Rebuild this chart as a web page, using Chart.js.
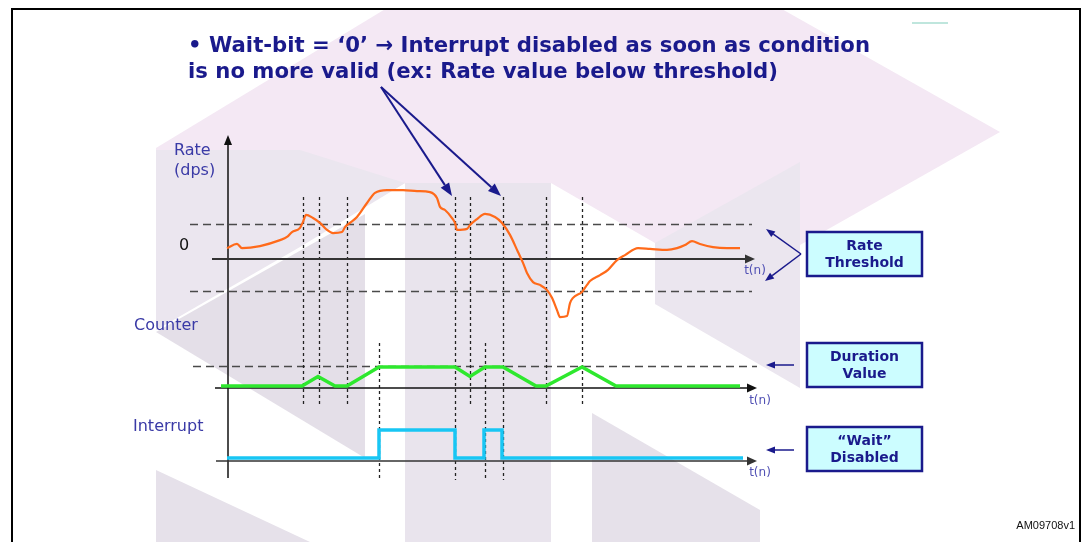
<!DOCTYPE html>
<html lang="en">
<head>
<meta charset="UTF-8" />
<title>Wait-bit = 0 interrupt timing</title>
<script src="https://cdn.jsdelivr.net/npm/chart.js@4.4.1/dist/chart.umd.min.js"></script>
<style>
  html, body { margin: 0; padding: 0; background: #fff; }
  #wrap { width: 1083px; height: 542px; }
</style>
</head>
<body>
<div id="wrap"><canvas id="chart" width="1083" height="542"></canvas></div>
<script>
// time in samples from the Rate axis, values per trace
const rateT = [-1, 9, 14, 32, 52, 59, 64, 72, 75, 78, 85, 92, 99, 105, 114, 117, 122, 129, 139, 147, 159, 175, 189, 202, 209, 212, 217, 224, 227, 229, 239, 242, 249, 257, 267, 274, 282, 290, 295, 299, 305, 312, 319, 324, 329, 332, 339, 342, 345, 354, 359, 362, 372, 380, 389, 397, 410, 422, 439, 449, 457, 464, 472, 485, 499, 512]
const rateV = [3.1, 4.3, 3.1, 3.7, 5.4, 6.3, 7.7, 8.9, 10.6, 12.6, 11.7, 10.3, 8.3, 7.4, 7.7, 9.1, 10.3, 12.0, 16.0, 18.9, 19.7, 19.7, 19.4, 19.1, 17.4, 14.9, 14.0, 11.7, 10.3, 8.3, 8.6, 9.7, 11.4, 12.9, 12.0, 10.3, 6.9, 2.0, -1.1, -4.0, -6.6, -7.4, -8.9, -11.1, -14.6, -16.6, -16.3, -12.6, -11.1, -9.4, -7.4, -6.3, -4.6, -3.1, -0.3, 1.1, 3.1, 2.9, 2.6, 3.1, 4.0, 5.1, 4.3, 3.4, 3.1, 3.1]
const counterT = [-7, 74, 90, 107, 119, 151, 227, 242, 257, 275, 308, 318, 354, 388, 512]
const counterV = [0, 0, 2, 0, 0, 4, 4, 2, 4, 4, 0, 0, 4, 0, 0]
const intT = [-1, 151, 227, 256, 274, 515]
const intV = [0, 1, 0, 1, 0, 0]
const thresholds = [10, -9]
const durationValue = 4
const eventT = [75, 91, 119, 151, 227, 242, 257, 275, 318, 354]
const eventSpan = ['rc', 'rc', 'rc', 'ci', 'all', 'rc', 'ci', 'all', 'rc', 'rc']

const W = 1083, H = 542
const axisX = 228
const NAVY = '#1a1a8c'
const LABEL = '#3a3aa6'

// y range so that value 0 lands on zeroPx with pxPerUnit scale
function span(zeroPx, pxPerUnit) {
  return { min: -(H - zeroPx) / pxPerUnit, max: zeroPx / pxPerUnit }
}

function pts(ts, vs) {
  return ts.map((t, i) => ({ x: t, y: vs[i] }))
}

function arrow(ctx, x1, y1, x2, y2, head, half, color, lw) {
  const a = Math.atan2(y2 - y1, x2 - x1)
  const bx = x2 - Math.cos(a) * head, by = y2 - Math.sin(a) * head
  ctx.save()
  ctx.strokeStyle = color
  ctx.fillStyle = color
  ctx.lineWidth = lw
  ctx.setLineDash([])
  ctx.beginPath()
  ctx.moveTo(x1, y1)
  ctx.lineTo(bx, by)
  ctx.stroke()
  ctx.beginPath()
  ctx.moveTo(x2, y2)
  ctx.lineTo(bx + Math.sin(a) * half, by - Math.cos(a) * half)
  ctx.lineTo(bx - Math.sin(a) * half, by + Math.cos(a) * half)
  ctx.closePath()
  ctx.fill()
  ctx.restore()
}

function fitText(ctx, text, x, y, width) {
  const w = ctx.measureText(text).width
  ctx.save()
  ctx.translate(x, y)
  ctx.scale(width / w, 1)
  ctx.fillText(text, 0, 0)
  ctx.restore()
}

// pale company-logo watermark behind the diagram
const watermark = [
  ['#f4e8f4', [[156, 148], [387, 8], [780, 8], [1000, 132], [800, 245], [655, 243], [551, 183], [405, 183], [156, 330]]],
  ['#ebe6ef', [[156, 150], [300, 150], [405, 183], [300, 247], [156, 330]]],
  ['#e4dfe8', [[156, 332], [365, 214], [365, 458]]],
  ['#e9e4ed', [[405, 183], [551, 183], [551, 542], [405, 542]]],
  ['#ebe6ef', [[655, 243], [800, 162], [800, 388], [655, 304]]],
  ['#e6e1ea', [[592, 413], [760, 510], [760, 542], [592, 542]]],
  ['#e6e1ea', [[156, 470], [310, 542], [156, 542]]],
]

const backdrop = {
  id: 'backdrop',
  beforeDraw(chart) {
    const ctx = chart.ctx
    ctx.save()
    ctx.fillStyle = '#fff'
    ctx.fillRect(0, 0, W, H)
    for (const [c, poly] of watermark) {
      ctx.fillStyle = c
      ctx.beginPath()
      poly.forEach(([x, y], i) => (i ? ctx.lineTo(x, y) : ctx.moveTo(x, y)))
      ctx.closePath()
      ctx.fill()
    }
    // frame
    ctx.strokeStyle = '#000'
    ctx.lineWidth = 2
    ctx.beginPath()
    ctx.moveTo(12, H)
    ctx.lineTo(12, 9)
    ctx.lineTo(1080, 9)
    ctx.lineTo(1080, H)
    ctx.stroke()
    ctx.strokeStyle = '#bfe6dd'
    ctx.beginPath()
    ctx.moveTo(912, 23)
    ctx.lineTo(948, 23)
    ctx.stroke()
    ctx.restore()
  },
}

const guides = {
  id: 'guides',
  beforeDatasetsDraw(chart) {
    const ctx = chart.ctx
    const x = chart.scales.x, yr = chart.scales.yRate, yc = chart.scales.yCnt, yi = chart.scales.yInt
    ctx.save()
    // threshold / duration dashes
    ctx.strokeStyle = '#4a4a4a'
    ctx.lineWidth = 1.5
    ctx.setLineDash([8, 5])
    for (const th of thresholds) {
      const py = Math.round(yr.getPixelForValue(th)) + 0.5
      ctx.beginPath(); ctx.moveTo(190, py); ctx.lineTo(752, py); ctx.stroke()
    }
    const pd = Math.round(yc.getPixelForValue(durationValue)) - 0.5
    ctx.beginPath(); ctx.moveTo(193, pd); ctx.lineTo(757, pd); ctx.stroke()

    // event markers
    const spans = { rc: [197, 407], ci: [343, 479], all: [197, 480] }
    ctx.strokeStyle = '#222'
    ctx.lineWidth = 1.3
    ctx.setLineDash([3, 3])
    eventT.forEach((t, i) => {
      const px = Math.round(x.getPixelForValue(t)) + 0.5
      const [a, b] = spans[eventSpan[i]]
      ctx.beginPath(); ctx.moveTo(px, a); ctx.lineTo(px, b); ctx.stroke()
    })
    ctx.setLineDash([])

    // axes
    const x0 = x.getPixelForValue(0)
    arrow(ctx, x0, 478, x0, 135, 10, 4, '#111', 1.5)
    arrow(ctx, 212, yr.getPixelForValue(0), 755, yr.getPixelForValue(0), 10, 4.5, '#333', 2)
    arrow(ctx, 215, yc.getPixelForValue(0) + 2, 757, yc.getPixelForValue(0) + 2, 10, 4.5, '#111', 1.5)
    arrow(ctx, 216, yi.getPixelForValue(0) + 3, 757, yi.getPixelForValue(0) + 3, 10, 4.5, '#333', 1.5)
    ctx.restore()
  },
}

const labels = {
  id: 'labels',
  afterDraw(chart) {
    const ctx = chart.ctx
    ctx.save()
    ctx.textBaseline = 'middle'

    ctx.fillStyle = NAVY
    ctx.font = 'bold 22px "DejaVu Sans"'
    ctx.textAlign = 'left'
    fitText(ctx, '\u2022 Wait-bit = \u20180\u2019 \u2192 Interrupt disabled as soon as condition', 188, 46, 682)
    fitText(ctx, 'is no more valid (ex: Rate value below threshold)', 188, 72, 590)

    arrow(ctx, 381, 87, 452, 196, 13, 5, NAVY, 2)
    arrow(ctx, 381, 87, 501, 196, 13, 5, NAVY, 2)

    ctx.fillStyle = LABEL
    ctx.font = '16px "DejaVu Sans"'
    ctx.fillText('Rate', 174, 151)
    ctx.fillText('(dps)', 174, 171)
    ctx.fillText('Counter', 134, 326)
    ctx.fillText('Interrupt', 133, 427)
    ctx.fillStyle = '#111'
    ctx.fillText('0', 179, 246)

    ctx.fillStyle = '#5050b4'
    ctx.font = '12px "DejaVu Sans"'
    ctx.textAlign = 'center'
    ctx.fillText('t(n)', 755, 271)
    ctx.fillText('t(n)', 760, 401)
    ctx.fillText('t(n)', 760, 473)

    // side boxes
    const boxes = [
      [232, ['Rate', 'Threshold']],
      [343, ['Duration', 'Value']],
      [427, ['\u201cWait\u201d', 'Disabled']],
    ]
    for (const [top, lines] of boxes) {
      ctx.fillStyle = '#ccfdff'
      ctx.fillRect(807, top, 115, 44)
      ctx.strokeStyle = NAVY
      ctx.lineWidth = 2.5
      ctx.strokeRect(807, top, 115, 44)
      ctx.fillStyle = NAVY
      ctx.font = 'bold 14px "DejaVu Sans"'
      ctx.fillText(lines[0], 864.5, top + 14.5)
      ctx.fillText(lines[1], 864.5, top + 31)
    }
    arrow(ctx, 801, 254, 766, 229, 9, 3.5, NAVY, 1.5)
    arrow(ctx, 801, 254, 765, 281, 9, 3.5, NAVY, 1.5)
    arrow(ctx, 794, 365, 766, 365, 9, 3.5, NAVY, 1.5)
    arrow(ctx, 794, 450, 766, 450, 9, 3.5, NAVY, 1.5)

    ctx.fillStyle = '#111'
    ctx.font = '11px "Liberation Sans"'
    ctx.textAlign = 'right'
    ctx.fillText('AM09708v1', 1075, 526)
    ctx.restore()
  },
}

new Chart(document.getElementById('chart'), {
  type: 'line',
  data: {
    datasets: [
      {
        label: 'Rate',
        data: pts(rateT, rateV),
        yAxisID: 'yRate',
        borderColor: '#ff6a1a',
        borderWidth: 2.2,
        pointRadius: 0,
        cubicInterpolationMode: 'monotone',
      },
      {
        label: 'Counter',
        data: pts(counterT, counterV),
        yAxisID: 'yCnt',
        borderColor: '#2ee82e',
        borderWidth: 3.5,
        pointRadius: 0,
      },
      {
        label: 'Interrupt',
        data: pts(intT, intV),
        yAxisID: 'yInt',
        borderColor: '#18c6f4',
        borderWidth: 3.5,
        pointRadius: 0,
        stepped: 'before',
      },
    ],
  },
  options: {
    responsive: false,
    animation: false,
    events: [],
    layout: { padding: 0 },
    plugins: { legend: { display: false }, tooltip: { enabled: false } },
    scales: {
      x: { type: 'linear', display: false, min: -axisX, max: W - axisX },
      yRate: { type: 'linear', display: false, ...span(259, 3.5) },
      yCnt: { type: 'linear', display: false, ...span(386, 4.75) },
      yInt: { type: 'linear', display: false, ...span(458, 28) },
    },
  },
  plugins: [backdrop, guides, labels],
})
</script>
</body>
</html>
